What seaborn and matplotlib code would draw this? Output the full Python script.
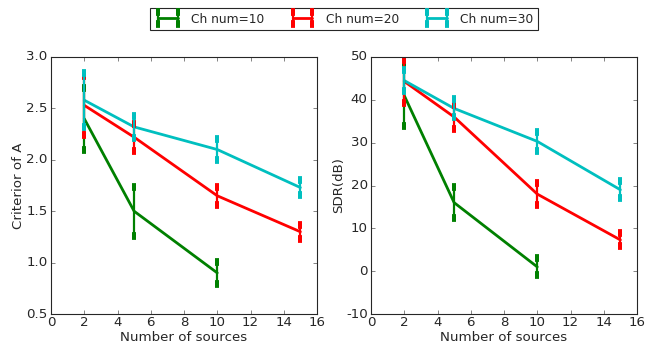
import numpy as np
import pandas as pd
import matplotlib
matplotlib.use('Agg')
import matplotlib.pyplot as plt
from matplotlib.legend_handler import HandlerTuple
import seaborn as sns

# данные
ch_labels = ['Ch num=10', 'Ch num=20', 'Ch num=30']
colors = ['g', 'r', 'c']

src_10 = [2, 5, 10]
src_20 = [2, 5, 10, 15]
src_30 = [2, 5, 10, 15]

# критерий A
crit_10 = [2.40, 1.50, 0.90]
crit_10_err = [0.30, 0.24, 0.11]
crit_20 = [2.53, 2.22, 1.65, 1.30]
crit_20_err = [0.29, 0.13, 0.09, 0.07]
crit_30 = [2.58, 2.32, 2.10, 1.73]
crit_30_err = [0.26, 0.11, 0.10, 0.07]

# SDR (дБ)
sdr_10 = [41.0, 16.0, 1.0]
sdr_10_err = [7.0, 3.6, 2.0]
sdr_20 = [44.3, 36.0, 18.0, 7.3]
sdr_20_err = [5.0, 2.7, 2.5, 1.5]
sdr_30 = [44.5, 38.0, 30.3, 19.0]
sdr_30_err = [2.5, 2.1, 2.3, 2.0]

plt.style.use('classic')
sns.set_style('ticks', {'xtick.direction': 'in', 'ytick.direction': 'in'})
plt.rcParams['font.family'] = ['DejaVu Sans']
plt.rcParams['xtick.top'] = True
plt.rcParams['ytick.right'] = True
plt.rcParams['font.size'] = 12
plt.rcParams['xtick.major.pad'] = 2
plt.rcParams['ytick.major.pad'] = 3
plt.rcParams['axes.unicode_minus'] = False


def make_df(xs, ys, errs):
    rows = []
    for lab, x, y, e in zip(ch_labels, xs, ys, errs):
        for xi, yi, ei in zip(x, y, e):
            rows.append({'src': xi, 'val': yi, 'err': ei, 'ch': lab})
    return pd.DataFrame(rows)


df_crit = make_df([src_10, src_20, src_30], [crit_10, crit_20, crit_30],
                  [crit_10_err, crit_20_err, crit_30_err])
df_sdr = make_df([src_10, src_20, src_30], [sdr_10, sdr_20, sdr_30],
                 [sdr_10_err, sdr_20_err, sdr_30_err])

palette = dict(zip(ch_labels, colors))

fig = plt.figure(figsize=(646 / 80, 347 / 80), dpi=80, facecolor='white')
ax1 = fig.add_axes([51 / 646, 1 - 314 / 347, 266 / 646, 257 / 347])
ax2 = fig.add_axes([371 / 646, 1 - 314 / 347, 266 / 646, 257 / 347])

handles = []
for ax, df in [(ax1, df_crit), (ax2, df_sdr)]:
    sns.lineplot(data=df, x='src', y='val', hue='ch', hue_order=ch_labels,
                 palette=palette, lw=2.5, legend=False, ax=ax)
    for lab in ch_labels:
        d = df[df['ch'] == lab]
        eb = ax.errorbar(d['src'], d['val'], yerr=d['err'], fmt='none',
                         ecolor=palette[lab], elinewidth=2, capsize=2,
                         capthick=7)
        if ax is ax1:
            handles.append(eb)
    ax.set_xlim(0, 16)
    ax.set_xlabel('Number of sources', labelpad=2)
    ax.set_facecolor('white')

lines = ax1.get_lines()[:3]
ax1.set_ylim(0.5, 3.0)
ax1.set_ylabel('Criterior of A', labelpad=1)
ax2.set_ylim(-10, 50)
ax2.set_ylabel('SDR(dB)', labelpad=1)

fig.legend([(l, h) for l, h in zip(lines, handles)], ch_labels,
           handler_map={tuple: HandlerTuple(ndivide=1)},
           loc='upper center', ncol=3, bbox_to_anchor=(0.5325, 0.985),
           numpoints=2, frameon=True, fancybox=False, fontsize=11,
           borderaxespad=0.2, handlelength=2.2)

plt.savefig('out.png', dpi=80, facecolor='white')
